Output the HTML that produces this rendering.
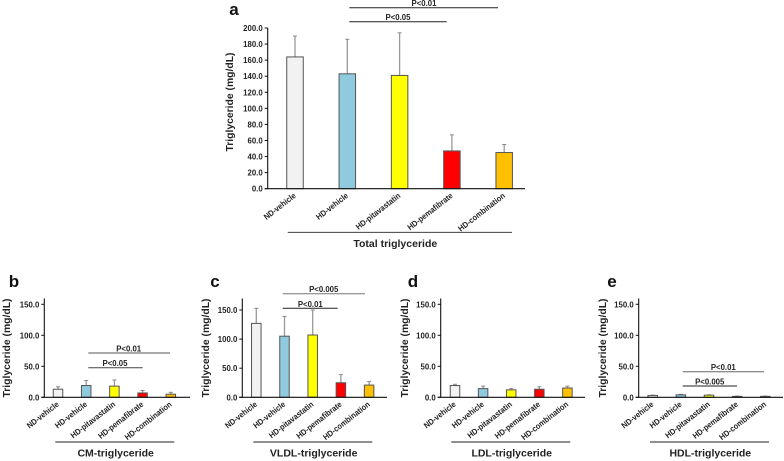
<!DOCTYPE html>
<html lang="en">
<head>
<meta charset="utf-8">
<title>Triglyceride by treatment group</title>
<style>
html,body{margin:0;padding:0;background:#fff;width:784px;height:461px;overflow:hidden}
svg{display:block;filter:blur(.35px)}
text{font-family:"Liberation Sans",Arial,sans-serif;fill:#222;font-weight:bold}
</style>
</head>
<body>
<svg id="figure" xmlns="http://www.w3.org/2000/svg" width="784" height="461" viewBox="0 0 784 461"></svg>
<script>
const categories = ["ND-vehicle", "HD-vehicle", "HD-pitavastatin", "HD-pemafibrate", "HD-combination"];
const totalMeans = [164, 143, 141, 47, 45];
const totalErrorTops = [190, 186, 194, 67, 55];
const cmMeans = [13, 19, 18, 7, 5];
const cmErrorTops = [17, 27, 28, 11, 8];
const vldlMeans = [127, 105, 107, 25, 21];
const vldlErrorTops = [153, 139, 150, 39, 27];
const ldlMeans = [19, 14, 12, 13, 15];
const ldlErrorTops = [21, 18, 14, 17, 18];
const hdlMeans = [3, 4, 3.5, 1.5, 1.5];
const hdlErrorTops = [3.5, 4.8, 4, 2, 2];
const totalTicks = [0, 20, 40, 60, 80, 100, 120, 140, 160, 180, 200];
const smallTicks = [0, 50, 100, 150];
const barColors = ["#f2f2f2", "#8fcade", "#ffff00", "#ff0000", "#ffc000"];

const svg = document.getElementById('figure');
const NS = 'http://www.w3.org/2000/svg';

function make(tag, attrs, parent, content) {
  const el = document.createElementNS(NS, tag);
  for (const k in attrs) el.setAttribute(k, attrs[k]);
  if (content !== undefined) el.textContent = content;
  parent.appendChild(el);
  return el;
}

function drawPanel(p) {
  const g = make('g', {}, svg);
  
  

  const yScale = v => p.y0 - (v / p.tickMax) * (p.y0 - p.yTickMaxPos);
  const xScale = i => p.x0 + p.firstCenter + i * p.step;

  const letter = make('text', {x: p.letterX, y: p.letterY, 'font-size': 17, 'text-anchor': 'middle', style: 'fill:#111'}, g, p.letter);
  
  

  const yTitle = make('text', {
    transform: 'translate(' + p.titleX + ',' + p.titleY + ') rotate(-90)',
    'font-size': p.yTitleSize, 'text-anchor': 'middle',
    textLength: p.yTitleLen, lengthAdjust: 'spacingAndGlyphs'
  }, g, 'Triglyceride (mg/dL)');
  
  

  p.means.forEach((m, i) => {
    const cx = xScale(i);
    const err = make('line', {x1: cx, x2: cx, y1: yScale(m), y2: yScale(p.tops[i]), stroke: '#999', 'stroke-width': 1.3}, g);
    
    

    const cap = make('line', {x1: cx - 2, x2: cx + 2, y1: yScale(p.tops[i]), y2: yScale(p.tops[i]), stroke: '#888', 'stroke-width': 1}, g);
    
    

    const bar = make('rect', {
      x: cx - p.barW / 2, y: yScale(m), width: p.barW, height: p.y0 - yScale(m),
      fill: barColors[i], stroke: '#555', 'stroke-width': 1
    }, g);
    
    

    const lab = make('text', {
      transform: 'translate(' + (cx + 1.5) + ',' + (p.y0 + 8) + ') rotate(-38) scale(.9,1)',
      'font-size': 8.2, 'text-anchor': 'end'
    }, g, categories[i]);
    
    
  });

  const yAxis = make('line', {x1: p.x0, x2: p.x0, y1: p.axisTop, y2: p.y0, stroke: '#111', 'stroke-width': 1.1}, g);
  
  

  const xAxis = make('line', {x1: p.x0 - 3, x2: p.xEnd, y1: p.y0, y2: p.y0, stroke: '#111', 'stroke-width': 1.1}, g);
  
  

  p.ticks.forEach(t => {
    const y = yScale(t);
    const mark = make('line', {x1: p.x0 - 3, x2: p.x0, y1: y, y2: y, stroke: '#111', 'stroke-width': 1}, g);
    
    

    const lab = make('text', {x: p.x0 - 5, y: y + 3, 'font-size': 7.8, 'text-anchor': 'end'}, g, t.toFixed(1));
    
    
  });

  const rule = make('line', {x1: p.ruleX1, x2: p.ruleX2, y1: p.ruleY, y2: p.ruleY, stroke: '#222', 'stroke-width': 0.9}, g);
  
  

  const groupTitle = make('text', {x: p.groupX, y: p.groupY, 'font-size': 10.5, 'text-anchor': 'middle'}, g, p.group);
  
  

  p.sig.forEach(s => {
    const sigLine = make('line', {x1: s[1], x2: s[2], y1: s[3], y2: s[3], stroke: s[5], 'stroke-width': 1}, g);
    
    

    const sigText = make('text', {x: s[4], y: s[3] - 1.5, 'font-size': 7.8, 'text-anchor': 'middle'}, g, s[0]);
    
    
  });
}

drawPanel({id: 'total', letter: 'a', letterX: 234, letterY: 15, titleX: 233, titleY: 102, yTitleSize: 10.5, yTitleLen: 99,
  x0: 267.7, xEnd: 525, y0: 188.7, yTickMaxPos: 28, tickMax: 200, axisTop: 28, firstCenter: 27.3, step: 52.3, barW: 16.5,
  means: totalMeans, tops: totalErrorTops, ticks: totalTicks,
  ruleX1: 287.7, ruleX2: 512, ruleY: 232.3, groupX: 395.3, groupY: 247, group: 'Total triglyceride',
  sig: [['P<0.01', 349.3, 498, 7.7, 424, '#222'], ['P<0.05', 349.3, 446.7, 21.7, 398, '#222']]});

drawPanel({id: 'cm', letter: 'b', letterX: 14, letterY: 287, titleX: 10, titleY: 348, yTitleSize: 10.5, yTitleLen: 99,
  x0: 44.3, xEnd: 190, y0: 397.3, yTickMaxPos: 304.3, tickMax: 150, axisTop: 298.5, firstCenter: 13.7, step: 28.2, barW: 9.5,
  means: cmMeans, tops: cmErrorTops, ticks: smallTicks,
  ruleX1: 55.3, ruleX2: 174.3, ruleY: 442, groupX: 115.7, groupY: 456.5, group: 'CM-triglyceride',
  sig: [['P<0.01', 88.3, 170, 353, 128.7, '#555'], ['P<0.05', 88.3, 142.7, 367.7, 115, '#444']]});

drawPanel({id: 'vldl', letter: 'c', letterX: 215, letterY: 287, titleX: 209, titleY: 348, yTitleSize: 10.5, yTitleLen: 99,
  x0: 242.3, xEnd: 387, y0: 397.3, yTickMaxPos: 310, tickMax: 150, axisTop: 298.5, firstCenter: 14, step: 28.2, barW: 9.5,
  means: vldlMeans, tops: vldlErrorTops, ticks: smallTicks,
  ruleX1: 253.3, ruleX2: 372.3, ruleY: 442, groupX: 313.7, groupY: 456.5, group: 'VLDL-triglyceride',
  sig: [['P<0.005', 282.7, 365, 293.7, 323.7, '#777'], ['P<0.01', 282.7, 337.7, 308.3, 310.3, '#222']]});

drawPanel({id: 'ldl', letter: 'd', letterX: 413, letterY: 287, titleX: 408, titleY: 348, yTitleSize: 10.5, yTitleLen: 99,
  x0: 440.7, xEnd: 585, y0: 397.3, yTickMaxPos: 304.3, tickMax: 150, axisTop: 298.5, firstCenter: 14.3, step: 28.1, barW: 9.5,
  means: ldlMeans, tops: ldlErrorTops, ticks: smallTicks,
  ruleX1: 451.3, ruleX2: 570.3, ruleY: 442, groupX: 511.7, groupY: 456.5, group: 'LDL-triglyceride',
  sig: []});

drawPanel({id: 'hdl', letter: 'e', letterX: 612, letterY: 287, titleX: 606, titleY: 348, yTitleSize: 10.5, yTitleLen: 99,
  x0: 638.7, xEnd: 783, y0: 397.3, yTickMaxPos: 304.3, tickMax: 150, axisTop: 298.5, firstCenter: 14, step: 28.15, barW: 9.5,
  means: hdlMeans, tops: hdlErrorTops, ticks: smallTicks,
  ruleX1: 650, ruleX2: 769, ruleY: 442, groupX: 710.3, groupY: 456.5, group: 'HDL-triglyceride',
  sig: [['P<0.01', 682.7, 764, 371.7, 723.3, '#666'], ['P<0.005', 682.7, 737, 386, 709.7, '#222']]});
</script>
</body>
</html>
